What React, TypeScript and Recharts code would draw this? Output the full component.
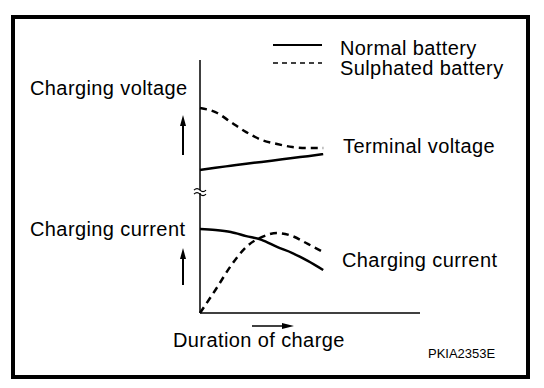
import { LineChart, Line, XAxis, YAxis, ReferenceDot, ReferenceLine } from "recharts";

// duration of charge (arbitrary units) at which each curve was read
const durations = [0, 0.7, 1.4, 2.1, 2.8, 3.5, 4.2, 4.9, 5.6];
// upper panel: charging / terminal voltage
const normalVoltage = [56.5, 57.4, 58.2, 59.0, 59.7, 60.5, 61.3, 62.0, 62.8];
const sulphatedVoltage = [81, 79.4, 75.5, 71.5, 68.4, 66.8, 65.6, 65.2, 65.2];
// lower panel: charging current
const normalCurrent = [33.2, 32.8, 32, 30.4, 28.9, 26.1, 23.7, 20.6, 17];
const sulphatedCurrent = [0, 9.1, 18.6, 26.1, 30, 31.6, 30.4, 27.3, 24.1];
const breakLevel = 48.2;

const data = durations.map((x, i) => ({
  x,
  normalVoltage: normalVoltage[i],
  sulphatedVoltage: sulphatedVoltage[i],
  normalCurrent: normalCurrent[i],
  sulphatedCurrent: sulphatedCurrent[i],
}));

const font = '"Liberation Sans", Arial, sans-serif';

const AxisBreak = ({ cx, cy }: any) => (
  <g>
    <rect x={cx - 2} y={cy - 1} width={4} height={3} fill="#fff" />
    <path d={`M${cx - 6} ${cy - 1} q3 -3 6 0 t6 0`} fill="none" stroke="#000" strokeWidth={1.2} />
    <path d={`M${cx - 6} ${cy + 3} q3 -3 6 0 t6 0`} fill="none" stroke="#000" strokeWidth={1.2} />
  </g>
);

const Label = ({ x, y, children, size = 20 }: any) => (
  <text x={x} y={y} fontSize={size} fontFamily={font} fill="#000" letterSpacing={size > 15 ? 0.4 : 0}>
    {children}
  </text>
);

export default function App() {
  return (
    <div style={{ position: "absolute", left: 0, top: 0, width: 544, height: 388, background: "#fff" }}>
      <LineChart
        width={544}
        height={388}
        data={data}
        margin={{ top: 60, right: 124, left: 200, bottom: 75 }}
      >
        <XAxis type="number" dataKey="x" domain={[0, 10]} hide />
        <YAxis type="number" domain={[0, 100]} hide />
        <ReferenceLine x={0} stroke="#000" strokeWidth={1.5} />
        <ReferenceLine y={0} stroke="#000" strokeWidth={1.5} />
        <Line type="monotone" dataKey="normalVoltage" stroke="#000" strokeWidth={2.5} dot={false} isAnimationActive={false} />
        <Line type="monotone" dataKey="sulphatedVoltage" stroke="#000" strokeWidth={2.5} strokeDasharray="7 5" dot={false} isAnimationActive={false} />
        <Line type="monotone" dataKey="normalCurrent" stroke="#000" strokeWidth={2.5} dot={false} isAnimationActive={false} />
        <Line type="monotone" dataKey="sulphatedCurrent" stroke="#000" strokeWidth={2.5} strokeDasharray="7 5" dot={false} isAnimationActive={false} />
        <ReferenceDot x={0} y={breakLevel} ifOverflow="visible" shape={AxisBreak} />
      </LineChart>

      <svg width={544} height={388} style={{ position: "absolute", left: 0, top: 0, pointerEvents: "none" }}>
        <rect x={13} y={17} width={515} height={360} fill="none" stroke="#000" strokeWidth={4} />

        {/* legend */}
        <line x1={273} y1={45} x2={322} y2={45} stroke="#000" strokeWidth={2} />
        <line x1={273} y1={63} x2={322} y2={63} stroke="#000" strokeWidth={1.5} strokeDasharray="5 4" />
        <Label x={340} y={55}>Normal battery</Label>
        <Label x={340} y={75}>Sulphated battery</Label>

        <Label x={30} y={95}>Charging voltage</Label>
        <Label x={30} y={236}>Charging current</Label>
        <Label x={343} y={153}>Terminal voltage</Label>
        <Label x={342} y={267}>Charging current</Label>
        <Label x={173} y={347}>Duration of charge</Label>
        <Label x={428} y={358} size={13}>PKIA2353E</Label>

        {/* up arrows */}
        <line x1={183} y1={155} x2={183} y2={123} stroke="#000" strokeWidth={2} />
        <path d="M183 115 L180 126 L186 126 Z" fill="#000" />
        <line x1={183} y1={285} x2={183} y2={256} stroke="#000" strokeWidth={2} />
        <path d="M183 248 L180 259 L186 259 Z" fill="#000" />
        {/* right arrow */}
        <line x1={252} y1={326} x2={284} y2={326} stroke="#000" strokeWidth={1.5} />
        <path d="M294 326 L282 323 L282 329 Z" fill="#000" />
      </svg>
    </div>
  );
}
